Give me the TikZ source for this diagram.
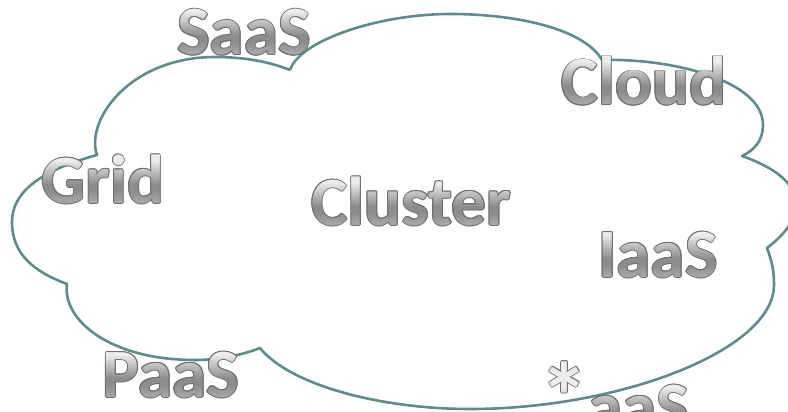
\documentclass[tikz,border=0pt]{standalone}
\usepackage{fontspec}
\setmainfont{Carlito}

\definecolor{cloudline}{HTML}{5E8B8D}
\definecolor{lbledge}{HTML}{6E6E6E}
\definecolor{lblbody}{HTML}{8C8C8C}

\tikzset{
  lbl/.style={inner sep=0pt, anchor=base,
    font=\fontsize{69}{69}\selectfont\bfseries},
  cloudpath/.style={draw=cloudline, line width=2.6pt, line join=round}
}

% metallic label: dark rim, grey body, then stacked white layers that
% brighten the top of the letters and, more faintly, the baseline
\newcommand\sheenlabel[4]{%
  \foreach \a [count=\i] in {0,45,...,315}
    \node[lbl, text=lbledge, shift={(\a:1.0)}] (#1-rim\i) at (#2,#3) {#4};
  \node[lbl, text=lblbody] (#1) at (#2,#3) {#4};
  % upper sheen: each layer covers everything above its lower edge
  \foreach \k [count=\i] in {22,24,...,48}{%
    \pgfmathsetmacro\tnow{min(0.85,(\k-20)/24*0.85)}%
    \pgfmathsetmacro\tprev{max(0,min(0.85,(\k-22)/24*0.85))}%
    \pgfmathsetmacro\op{1-(1-\tnow)/(1-\tprev)}%
    \begin{scope}
      \clip (#2-200,#3-\k+2) rectangle (#2+200,#3-100);
      \node[lbl, text=white, text opacity=\op] (#1-hi\i) at (#2,#3) {#4};
    \end{scope}
  }%
  % lower sheen: each layer covers everything below its upper edge
  \foreach \k [count=\i] in {12,10,...,2}{%
    \pgfmathsetmacro\tnow{0.28*(13-\k)/12}%
    \pgfmathsetmacro\tprev{\k>11 ? 0 : 0.28*(11-\k)/12}%
    \pgfmathsetmacro\op{1-(1-\tnow)/(1-\tprev)}%
    \begin{scope}
      \clip (#2-200,#3+20) rectangle (#2+200,#3-\k);
      \node[lbl, text=white, text opacity=\op] (#1-lo\i) at (#2,#3) {#4};
    \end{scope}
  }%
}

\begin{document}
\begin{tikzpicture}[x=1pt, y=-1pt]
  \useasboundingbox (0,0) rectangle (788,412);
  \clip (0,0) rectangle (788,412);

  % cloud outline, clockwise from the upper-left notch
  \coordinate (nA) at (290,70);
  \coordinate (nB) at (602,60);
  \coordinate (nC) at (742,156);
  \coordinate (nD) at (767,248);
  \coordinate (nE) at (260,348);
  \coordinate (nF) at (67,284);
  \coordinate (nG) at (97,155);
  \path[cloudpath]
    (nA) .. controls (300,40) and (380,14) .. (450,14)
         .. controls (520,14) and (585,30) .. (nB)
         .. controls (670,58) and (763,80) .. (763,125)
         .. controls (763,140) and (755,150) .. (nC)
         .. controls (810,180) and (809,216) .. (nD)
         .. controls (772,262) and (774,270) .. (774,285)
         .. controls (774,350) and (620,409) .. (470,409)
         .. controls (380,409) and (290,385) .. (nE)
         .. controls (240,356) and (215,360) .. (195,360)
         .. controls (110,360) and (62,320) .. (nF)
         .. controls (35,272) and (12,255) .. (12,222)
         .. controls (12,195) and (35,172) .. (nG)
         .. controls (85,120) and (130,57) .. (215,57)
         .. controls (245,57) and (270,62) .. (nA);

  % labels
  \sheenlabel{saas}{244}{55}{SaaS}
  \sheenlabel{cloud}{644}{105}{Cloud}
  \sheenlabel{grid}{103}{203}{Grid}
  \sheenlabel{cluster}{411}{225}{Cluster}
  \sheenlabel{iaas}{658}{277}{IaaS}
  \sheenlabel{paas}{171}{397}{PaaS}
  \sheenlabel{anyaas}{615}{430}{{\fontsize{96}{96}\selectfont *}aaS}
\end{tikzpicture}
\end{document}
